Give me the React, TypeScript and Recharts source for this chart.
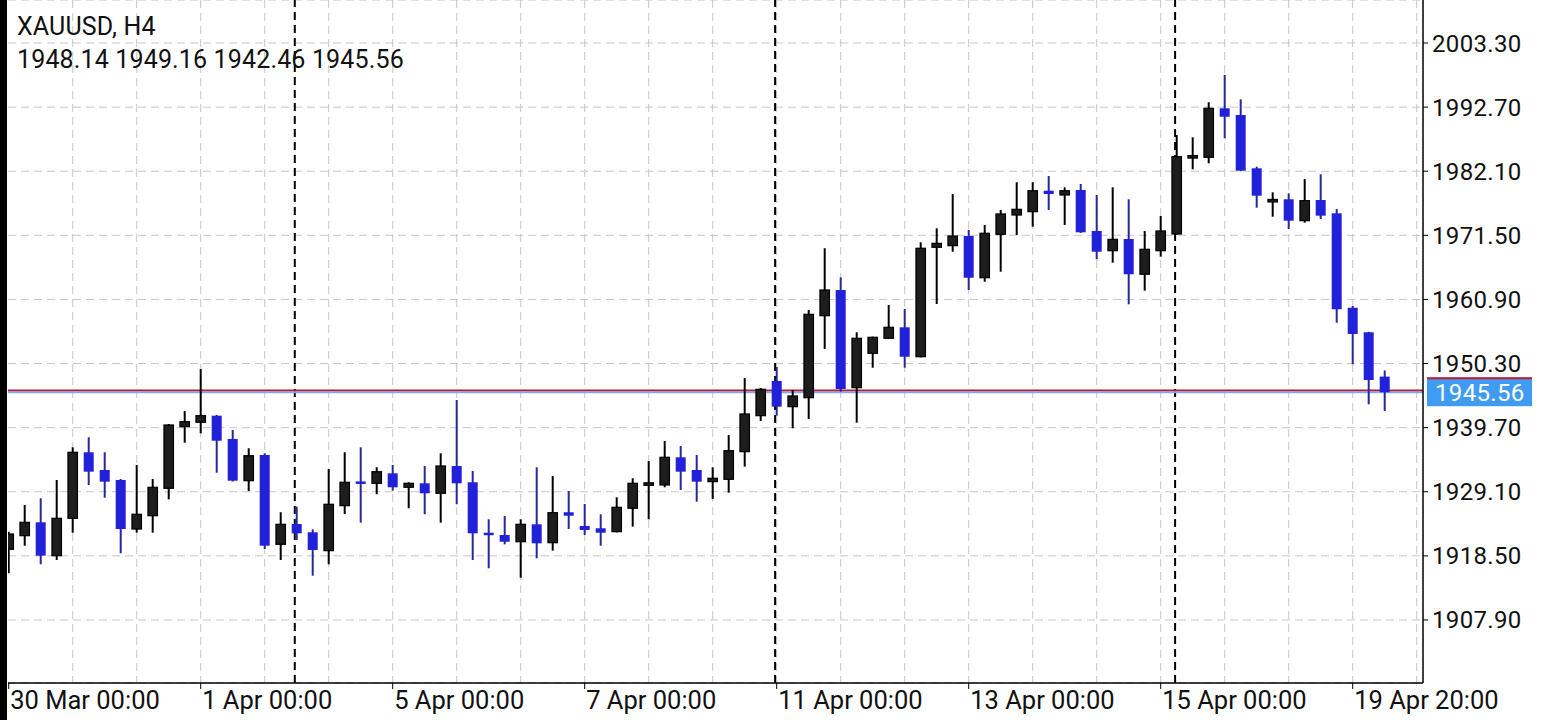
import React from 'react';
import { ComposedChart, Bar, XAxis, YAxis, CartesianGrid, ReferenceLine } from 'recharts';

// H4 candles, oldest to newest
const opens = [1919.59, 1921.84, 1924.05, 1918.53, 1924.71, 1935.63, 1932.70, 1931.05, 1922.94, 1925.14,
  1929.67, 1939.86, 1940.59, 1941.68, 1937.83, 1930.93, 1935.18, 1920.41, 1923.77, 1922.40,
  1919.36, 1926.80, 1930.70, 1930.50, 1932.15, 1929.84, 1930.50, 1928.85, 1933.36, 1930.67,
  1922.22, 1921.95, 1920.84, 1923.72, 1920.68, 1925.71, 1923.44, 1923.06, 1922.50, 1926.37,
  1930.30, 1930.22, 1934.80, 1932.70, 1930.77, 1931.16, 1935.73, 1941.68, 1947.42, 1943.17,
  1944.65, 1958.21, 1962.46, 1946.31, 1951.99, 1954.48, 1956.29, 1951.43, 1969.52, 1969.79,
  1971.39, 1964.49, 1971.67, 1974.86, 1975.41, 1978.88, 1978.17, 1979.00, 1972.22, 1968.96,
  1970.89, 1965.06, 1968.96, 1971.72, 1984.40, 1984.40, 1992.50, 1991.40, 1982.58, 1977.15,
  1977.46, 1973.92, 1977.34, 1975.14, 1959.53, 1955.47, 1948.14];
const highs = [1922.50, 1926.91, 1928.02, 1931.05, 1936.45, 1938.11, 1935.63, 1931.20, 1933.53, 1931.21,
  1940.31, 1942.45, 1949.40, 1941.80, 1939.31, 1936.29, 1935.46, 1925.71, 1926.63, 1922.89,
  1932.87, 1935.63, 1936.45, 1933.15, 1933.53, 1930.67, 1933.36, 1935.46, 1944.27, 1932.53,
  1924.55, 1925.09, 1924.55, 1933.15, 1931.71, 1929.23, 1927.08, 1925.38, 1928.19, 1931.33,
  1934.19, 1937.49, 1936.67, 1935.18, 1933.15, 1938.49, 1947.91, 1946.26, 1949.73, 1945.93,
  1959.15, 1969.36, 1964.56, 1955.47, 1954.75, 1959.98, 1959.32, 1970.35, 1972.66, 1978.33,
  1972.38, 1973.21, 1975.69, 1980.27, 1980.27, 1981.31, 1979.44, 1979.99, 1978.17, 1979.44,
  1977.46, 1972.22, 1974.70, 1988.09, 1987.71, 1993.50, 1998.01, 1993.99, 1982.85, 1978.61,
  1978.45, 1980.81, 1981.59, 1975.85, 1959.82, 1955.55, 1949.16];
const lows = [1915.62, 1920.18, 1917.11, 1917.82, 1922.33, 1930.22, 1928.12, 1918.93, 1922.33, 1922.33,
  1927.85, 1937.21, 1938.77, 1932.25, 1930.80, 1929.23, 1919.64, 1917.82, 1921.13, 1915.22,
  1917.11, 1925.42, 1923.99, 1928.68, 1929.28, 1926.37, 1925.38, 1923.99, 1927.03, 1917.82,
  1916.45, 1920.41, 1914.89, 1918.10, 1919.36, 1922.94, 1921.95, 1920.18, 1922.40, 1923.33,
  1924.55, 1929.84, 1929.39, 1927.46, 1927.90, 1928.95, 1933.25, 1940.80, 1941.68, 1939.59,
  1941.13, 1952.71, 1945.65, 1940.52, 1949.61, 1954.40, 1949.61, 1951.33, 1960.15, 1968.79,
  1962.46, 1963.83, 1965.49, 1971.55, 1972.93, 1975.69, 1973.21, 1971.90, 1967.54, 1966.97,
  1960.10, 1962.35, 1967.97, 1971.55, 1982.42, 1983.41, 1987.54, 1982.10, 1976.07, 1974.58,
  1972.55, 1973.59, 1974.20, 1957.05, 1950.18, 1943.56, 1942.46];
const closes = [1922.12, 1924.05, 1918.53, 1924.71, 1935.63, 1932.42, 1930.77, 1922.94, 1925.38, 1929.84,
  1940.14, 1940.69, 1941.68, 1937.54, 1930.93, 1935.06, 1920.18, 1923.72, 1922.23, 1919.47,
  1927.03, 1930.67, 1930.50, 1932.42, 1929.84, 1930.50, 1928.85, 1933.36, 1930.50, 1922.23,
  1922.02, 1920.84, 1923.72, 1920.58, 1925.64, 1925.14, 1922.78, 1922.33, 1926.53, 1930.50,
  1930.45, 1934.80, 1932.42, 1930.77, 1931.33, 1935.89, 1941.96, 1946.04, 1943.17, 1944.94,
  1958.44, 1962.46, 1946.09, 1954.48, 1954.64, 1956.29, 1951.43, 1969.36, 1970.18, 1971.39,
  1964.49, 1971.84, 1975.03, 1975.80, 1978.88, 1978.33, 1978.88, 1972.00, 1968.79, 1970.84,
  1965.06, 1969.19, 1972.22, 1984.50, 1984.55, 1992.50, 1991.11, 1982.19, 1978.05, 1977.30,
  1973.92, 1977.23, 1974.75, 1959.27, 1955.19, 1947.58, 1945.56];

const xTickIdx = [0, 12, 24, 36, 48, 60, 72, 84];
const xTickLabels = ['30 Mar 00:00', '1 Apr 00:00', '5 Apr 00:00', '7 Apr 00:00', '11 Apr 00:00', '13 Apr 00:00', '15 Apr 00:00', '19 Apr 20:00'];
const priceTicks = [1907.9, 1918.5, 1929.1, 1939.7, 1950.3, 1960.9, 1971.5, 1982.1, 1992.7, 2003.3];
const gridIdx = [4, 8, 12, 16, 20, 24, 28, 32, 36, 40, 44, 48, 52, 56, 60, 64, 68, 72, 76, 80, 84, 88];
const separators = [17.88, 47.9, 72.9];
const bidPrice = 1945.56;
const askPrice = 1945.84;
const xDomain = [-0.044, 88.394];
const yDomain = [1897.48, 2010.41];

const symbolTitle = 'XAUUSD, H4';

const candles = opens.map((o, i) => ({ i, o, h: highs[i], l: lows[i], c: closes[i], range: [lows[i], highs[i]] }));

const FONT = 'Roboto, "Noto Sans", sans-serif';
const BULL_FILL = '#1d1d1d';
const BEAR_FILL = '#2121d8';
const BEAR_WICK = '#26269e';

const Candle = (props: any) => {
  const { x, y, width, height, payload } = props;
  if (x == null || y == null || !payload) return null;
  const { o, h, l, c } = payload;
  const top = Math.min(y, y + height);
  const bottom = Math.max(y, y + height);
  const py = (p: number) => top + ((h - p) / (h - l)) * (bottom - top);
  const cx = x + width / 2;
  const bull = c > o;
  const bTop = py(Math.max(o, c));
  const bBot = py(Math.min(o, c));
  let bh = bBot - bTop;
  let by = bTop;
  if (bh < 2.5) {
    by = (bTop + bBot) / 2 - 1.25;
    bh = 2.5;
  }
  return (
    <g>
      <line x1={cx} x2={cx} y1={top} y2={bottom} stroke={bull ? '#000' : BEAR_WICK} strokeWidth={2} />
      {bull ? (
        <rect x={cx - 4.75} y={by} width={9.5} height={bh} fill={BULL_FILL} stroke="#000" strokeWidth={1.2} />
      ) : (
        <rect x={cx - 5} y={by} width={10} height={bh} fill={BEAR_FILL} />
      )}
    </g>
  );
};

const XTick = (props: any) => {
  const { x, y, payload } = props;
  const idx = xTickIdx.indexOf(payload.value);
  return (
    <text x={x + 1.5} y={y + 18} textAnchor="start" fontFamily={FONT} fontSize={25.5} fill="#111">
      {idx >= 0 ? xTickLabels[idx] : ''}
    </text>
  );
};

const YTick = (props: any) => {
  const { x, y, payload } = props;
  return (
    <text x={x + 2} y={y + 8.5} textAnchor="start" fontFamily={FONT} fontSize={24} letterSpacing={0.35} fill="#111">
      {Number(payload.value).toFixed(2)}
    </text>
  );
};

const BidLabel = (props: any) => {
  const vb = props.viewBox || {};
  const lx = (vb.x || 0) + (vb.width || 0) + 4;
  const ly = vb.y || 0;
  return (
    <g>
      <rect x={lx} y={ly - 15} width={105} height={28} fill="#c0192b" />
      <rect x={lx} y={ly - 13} width={105} height={27} fill="#3f9cf2" />
      <text x={lx + 8} y={ly + 8.5} fontFamily={FONT} fontSize={24} letterSpacing={0.35} fill="#fff">
        {bidPrice.toFixed(2)}
      </text>
    </g>
  );
};

export default function App() {
  return (
    <div style={{ position: 'absolute', left: 0, top: 0, width: 1550, height: 720, background: '#fff', fontFamily: FONT }}>
      <ComposedChart width={1550} height={720} data={candles} margin={{ top: 0, right: 0, bottom: 0, left: 8 }}>
        <CartesianGrid
          stroke="#c6c6c6"
          strokeDasharray="8 5"
          verticalCoordinatesGenerator={(args: any) => {
            const sc = args && args.xAxis && args.xAxis.scale;
            if (typeof sc === 'function') return gridIdx.map((v) => sc(v));
            const off = args.offset;
            return gridIdx.map((v) => off.left + ((v - xDomain[0]) / (xDomain[1] - xDomain[0])) * off.width);
          }}
        />
        <XAxis
          dataKey="i"
          type="number"
          domain={xDomain}
          ticks={xTickIdx}
          interval={0}
          height={37}
          allowDataOverflow
          axisLine={{ stroke: '#000', strokeWidth: 1.5 }}
          tickLine={{ stroke: '#000', strokeWidth: 1 }}
          tickSize={6}
          tick={<XTick />}
        />
        <YAxis
          orientation="right"
          type="number"
          domain={yDomain}
          ticks={priceTicks}
          interval={0}
          width={127}
          allowDataOverflow
          axisLine={{ stroke: '#000', strokeWidth: 1.5 }}
          tickLine={{ stroke: '#000', strokeWidth: 1 }}
          tickSize={5}
          tick={<YTick />}
        />
        {separators.map((s) => (
          <ReferenceLine key={'sep' + s} x={s} stroke="#000" strokeWidth={2} strokeDasharray="8 5" zIndex={-10} />
        ))}
        <ReferenceLine y={askPrice} stroke="#c0192b" strokeWidth={2} zIndex={-10} />
        <ReferenceLine y={bidPrice} stroke="#86a8e8" strokeWidth={2} zIndex={-10} label={<BidLabel />} />
        <Bar dataKey="range" shape={<Candle />} isAnimationActive={false} barSize={10} />
      </ComposedChart>
      <div style={{ position: 'absolute', left: 0, top: 0, width: 7, height: 720, background: '#000' }} />
      <div style={{ position: 'absolute', left: 17, top: 11, fontSize: 25, letterSpacing: 0.15, lineHeight: '31px', color: '#111', fontFamily: FONT }}>
        <div>{symbolTitle}</div>
        <div style={{ marginTop: 2 }}>
          {[opens[opens.length - 1], highs[highs.length - 1], lows[lows.length - 1], closes[closes.length - 1]].map((v) => v.toFixed(2)).join(' ')}
        </div>
      </div>
    </div>
  );
}
